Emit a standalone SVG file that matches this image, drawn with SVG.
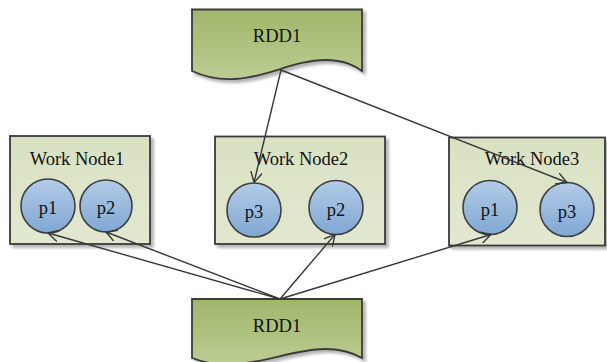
<svg xmlns="http://www.w3.org/2000/svg" width="607" height="362" viewBox="0 0 607 362">
  <defs>
    <linearGradient id="docFill" x1="0" y1="0" x2="0" y2="1">
      <stop offset="0" stop-color="#9fb66a"/>
      <stop offset="1" stop-color="#bccd93"/>
    </linearGradient>
    <linearGradient id="boxFill" x1="0" y1="0" x2="0" y2="1">
      <stop offset="0" stop-color="#d9e1c2"/>
      <stop offset="1" stop-color="#e2e8d0"/>
    </linearGradient>
    <linearGradient id="partFill" x1="0" y1="0" x2="0" y2="1">
      <stop offset="0" stop-color="#b3cce8"/>
      <stop offset="1" stop-color="#80a7d3"/>
    </linearGradient>
    <filter id="shadow" x="-10%" y="-10%" width="125%" height="130%">
      <feGaussianBlur in="SourceAlpha" stdDeviation="1.5"/>
      <feOffset dx="3" dy="3" result="off"/>
      <feComponentTransfer>
        <feFuncA type="linear" slope="0.3"/>
      </feComponentTransfer>
      <feMerge>
        <feMergeNode/>
        <feMergeNode in="SourceGraphic"/>
      </feMerge>
    </filter>
    <marker id="arrow" viewBox="0 0 12 12" refX="11" refY="6" markerWidth="12" markerHeight="12" markerUnits="userSpaceOnUse" orient="auto">
      <path d="M0,0 L11,6 L0,12" fill="none" stroke="#383838" stroke-width="1.4"/>
    </marker>
  </defs>
  <style>
    .doc { fill: url(#docFill); stroke: #3a3a3a; stroke-width: 1.8; filter: url(#shadow); }
    .box { fill: url(#boxFill); stroke: #3a3a3a; stroke-width: 1.8; filter: url(#shadow); }
    .part { fill: url(#partFill); stroke: #3f3f3f; stroke-width: 1.6; }
    .label { font-family: "Liberation Serif", "Times New Roman", serif; font-size: 18.5px; fill: #111; text-anchor: middle; }
    .link { fill: none; stroke: #383838; stroke-width: 1.4; marker-end: url(#arrow); }
  </style>

  <!-- source dataset, top -->
  <g id="rdd-top">
    <path class="doc" d="M192,9.5 L362,9.5 L362,71 C355,66 345,60 325,60 C295,60 265,78 235,79 C220,80 205,77 192,71 Z"/>
    <text class="label" x="277" y="42">RDD1</text>
  </g>

  <!-- worker nodes -->
  <g id="work-node-1">
    <rect class="box" x="10" y="136" width="140" height="108"/>
    <text class="label" x="77" y="165">Work Node1</text>
    <circle class="part" cx="48" cy="206" r="27"/>
    <text class="label" x="48" y="214">p1</text>
    <circle class="part" cx="106" cy="206" r="26"/>
    <text class="label" x="106" y="214">p2</text>
  </g>

  <g id="work-node-2">
    <rect class="box" x="215" y="136.5" width="170" height="107.5"/>
    <text class="label" x="301" y="165">Work Node2</text>
    <circle class="part" cx="254" cy="210" r="27"/>
    <text class="label" x="254" y="218">p3</text>
    <circle class="part" cx="336" cy="207.5" r="27"/>
    <text class="label" x="336" y="215.5">p2</text>
  </g>

  <g id="work-node-3">
    <rect class="box" x="449" y="137.5" width="156" height="108"/>
    <text class="label" x="532" y="164.5">Work Node3</text>
    <circle class="part" cx="490" cy="207.5" r="27"/>
    <text class="label" x="490" y="215.5">p1</text>
    <circle class="part" cx="567" cy="209.5" r="27"/>
    <text class="label" x="567" y="217.5">p3</text>
  </g>

  <!-- result dataset, bottom -->
  <g id="rdd-bottom">
    <path class="doc" d="M192,299 L362,299 L362,358 C355,354 345,349 325,349 C295,349 265,363 235,364 C220,365 205,363 192,358 Z"/>
    <text class="label" x="277" y="332">RDD1</text>
  </g>

  <!-- partition placement links -->
  <g id="connectors">
    <line class="link" x1="281" y1="70" x2="254" y2="182.5"/>
    <line class="link" x1="281" y1="70" x2="567" y2="182.5"/>
    <line class="link" x1="280" y1="299" x2="48" y2="233"/>
    <line class="link" x1="280" y1="299" x2="106" y2="232"/>
    <line class="link" x1="280" y1="299" x2="335" y2="234.5"/>
    <line class="link" x1="280" y1="299" x2="491" y2="234.5"/>
  </g>
</svg>
